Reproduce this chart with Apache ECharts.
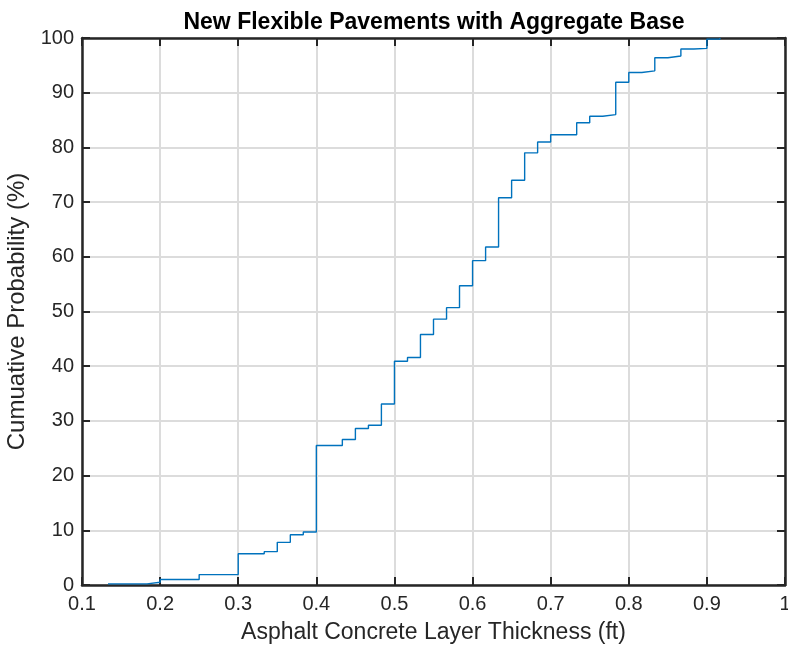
<!DOCTYPE html>
<html>
<head>
<meta charset="utf-8">
<script src="https://cdn.jsdelivr.net/npm/echarts@6/dist/echarts.min.js"></script>
<style>
  html, body { margin: 0; padding: 0; background: #ffffff; overflow: hidden; }
  #chart { width: 788px; height: 648px; }
</style>
</head>
<body>
<div id="chart"></div>
<script>
// Empirical CDF of asphalt concrete layer thickness (ft)
const thickness = [
  0.1333, 0.1833, 0.2, 0.25, 0.3, 0.3333, 0.35, 0.3667, 0.3833,
  0.4, 0.4333, 0.45, 0.4667, 0.4833, 0.5, 0.5167, 0.5333, 0.55, 0.5667, 0.5833,
  0.6, 0.6167, 0.6333, 0.65, 0.6667, 0.6833, 0.7, 0.7333, 0.75, 0.7667, 0.7833,
  0.8, 0.8167, 0.8333, 0.85, 0.8667, 0.8833, 0.9, 0.9167
];
const cumulativePct = [
  0.2, 0.5, 1.0, 1.9, 5.7, 6.1, 7.8, 9.2, 9.7,
  25.5, 26.6, 28.6, 29.2, 33.1, 40.9, 41.6, 45.8, 48.6, 50.7, 54.7,
  59.3, 61.8, 70.8, 74.0, 79.0, 81.0, 82.3, 84.5, 85.7, 86.0, 91.9,
  93.7, 94.0, 96.4, 96.7, 98.0, 98.1, 99.8, 100
];
const xTicks = [0.1, 0.2, 0.3, 0.4, 0.5, 0.6, 0.7, 0.8, 0.9, 1];
const yTicks = [0, 10, 20, 30, 40, 50, 60, 70, 80, 90, 100];

const titleText = 'New Flexible Pavements with Aggregate Base';
const xName = 'Asphalt Concrete Layer Thickness (ft)';
const yName = 'Cumuative Probability (%)';

const ink = '#262626';
const font = '"Liberation Sans", Arial, Helvetica, sans-serif';

const points = thickness.map((x, i) => [x, cumulativePct[i]]);

const baseX = {
  type: 'value',
  min: xTicks[0],
  max: xTicks[xTicks.length - 1],
  interval: 0.1,
  axisLine: { show: true, onZero: false, lineStyle: { color: ink, width: 2.5 } },
  axisTick: { show: true, inside: true, length: 8, lineStyle: { color: ink, width: 2 } }
};
const baseY = {
  type: 'value',
  min: yTicks[0],
  max: yTicks[yTicks.length - 1],
  interval: 10,
  axisLine: { show: true, onZero: false, lineStyle: { color: ink, width: 2.5 } },
  axisTick: { show: true, inside: true, length: 8, lineStyle: { color: ink, width: 2 } }
};

const chart = echarts.init(document.getElementById('chart'), null, {
  renderer: 'canvas', width: 788, height: 648
});
chart.setOption({
  animation: false,
  backgroundColor: '#ffffff',
  title: {
    text: titleText,
    left: 429,
    textAlign: 'center',
    top: 6,
    textStyle: { fontFamily: font, fontSize: 23, fontWeight: 'bold', color: '#000000' }
  },
  grid: {
    left: 82, right: 3, top: 38, bottom: 63,
    containLabel: false,
    outerBoundsMode: 'none'
  },
  xAxis: [
    Object.assign({}, baseX, {
      position: 'bottom',
      name: xName,
      nameLocation: 'middle',
      nameGap: 36,
      nameTextStyle: { fontFamily: font, fontSize: 23, color: ink },
      axisLabel: {
        margin: 9, fontFamily: font, fontSize: 20, color: ink,
        formatter: v => String(+v.toFixed(1))
      },
      splitLine: { show: true, lineStyle: { color: '#dcdcdc', width: 2 } }
    }),
    Object.assign({}, baseX, {
      position: 'top',
      axisLabel: { show: false },
      splitLine: { show: false }
    })
  ],
  yAxis: [
    Object.assign({}, baseY, {
      position: 'left',
      name: yName,
      nameLocation: 'middle',
      nameGap: 40,
      nameTextStyle: { fontFamily: font, fontSize: 24, color: ink },
      axisLabel: { margin: 8, fontFamily: font, fontSize: 20, color: ink },
      splitLine: { show: true, lineStyle: { color: '#dcdcdc', width: 2 } }
    }),
    Object.assign({}, baseY, {
      position: 'right',
      axisLabel: { show: false },
      splitLine: { show: false }
    })
  ],
  series: [{
    type: 'line',
    step: 'end',
    data: points,
    xAxisIndex: 0,
    yAxisIndex: 0,
    showSymbol: false,
    symbol: 'none',
    lineStyle: { color: '#0072BD', width: 1.4 },
    z: 1
  }]
});
</script>
</body>
</html>
